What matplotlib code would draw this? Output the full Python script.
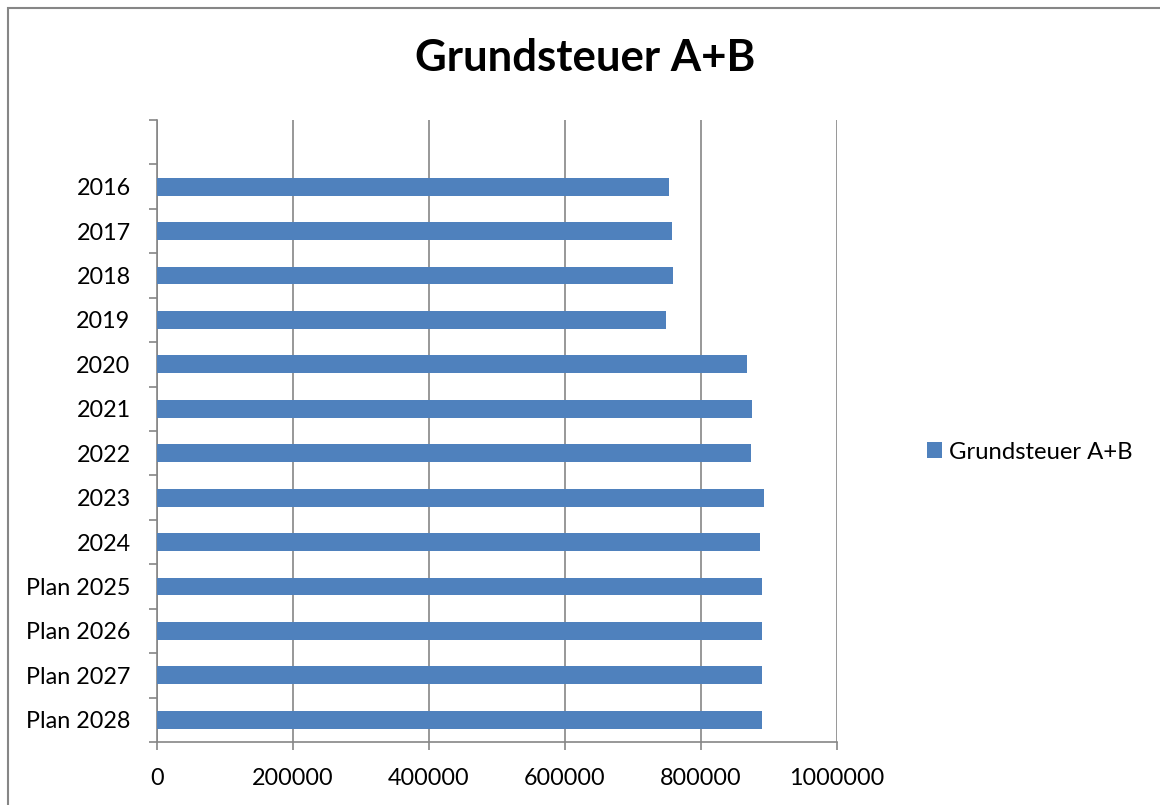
import matplotlib
matplotlib.use("Agg")
import matplotlib.pyplot as plt
from matplotlib.patches import Rectangle

categories = ["2016", "2017", "2018", "2019", "2020", "2021", "2022", "2023", "2024",
              "Plan 2025", "Plan 2026", "Plan 2027", "Plan 2028"]
values = [753500, 757900, 758800, 748000, 867600, 875000, 874100, 892600, 886300,
          889700, 889700, 889700, 889700]
xticks = [0, 200000, 400000, 600000, 800000, 1000000]
series_name = "Grundsteuer A+B"

plt.rcParams['font.family'] = ['Lato', 'DejaVu Sans']

fig = plt.figure(figsize=(11.6, 8.05), dpi=100)
fig.patches.append(Rectangle((8/1160, -0.1), 1.2, 1 - 8/805 + 0.1, transform=fig.transFigure,
                             fill=False, edgecolor="#868686", linewidth=1.5))

ax = fig.add_axes([157/1160, 1 - 742/805, 680/1160, (742 - 120)/805])
n = len(categories)
ypos = list(range(1, n + 1))
bars = ax.barh(ypos, values, height=0.4, color="#4F81BD", label=series_name, zorder=3)
ax.set_ylim(n + 0.5, -0.5)
ax.set_xlim(0, 1000000)
ax.set_xticks(xticks)
ax.set_xticklabels([str(v) for v in xticks], fontsize=16.8)
ax.set_yticks(ypos)
ax.set_yticklabels(categories, fontsize=16.8)
ax.set_yticks([i + 0.5 for i in range(-1, n + 1)], minor=True)
ax.tick_params(axis='y', which='major', length=0, pad=19)
ax.tick_params(axis='y', which='minor', length=6, color="#868686", width=1.2)
ax.tick_params(axis='x', which='major', length=6, color="#868686", width=1.2, pad=13)
ax.grid(axis='x', color="#868686", linewidth=1.2, zorder=0)
for s in ['top', 'right']:
    ax.spines[s].set_visible(False)
for s in ['left', 'bottom']:
    ax.spines[s].set_color("#868686")
    ax.spines[s].set_linewidth(1.2)

fig.text(585/1160, 1 - 58/805, "Grundsteuer A+B", ha='center', va='center',
         fontsize=31.5, fontweight='bold')
fig.legend(handles=[bars], labels=[series_name], loc='center left',
           bbox_to_anchor=(905/1160, 1 - 452/805), frameon=False, fontsize=17.2,
           handlelength=0.65, handleheight=0.65, handletextpad=0.3)

fig.savefig("out.png", dpi=100)
